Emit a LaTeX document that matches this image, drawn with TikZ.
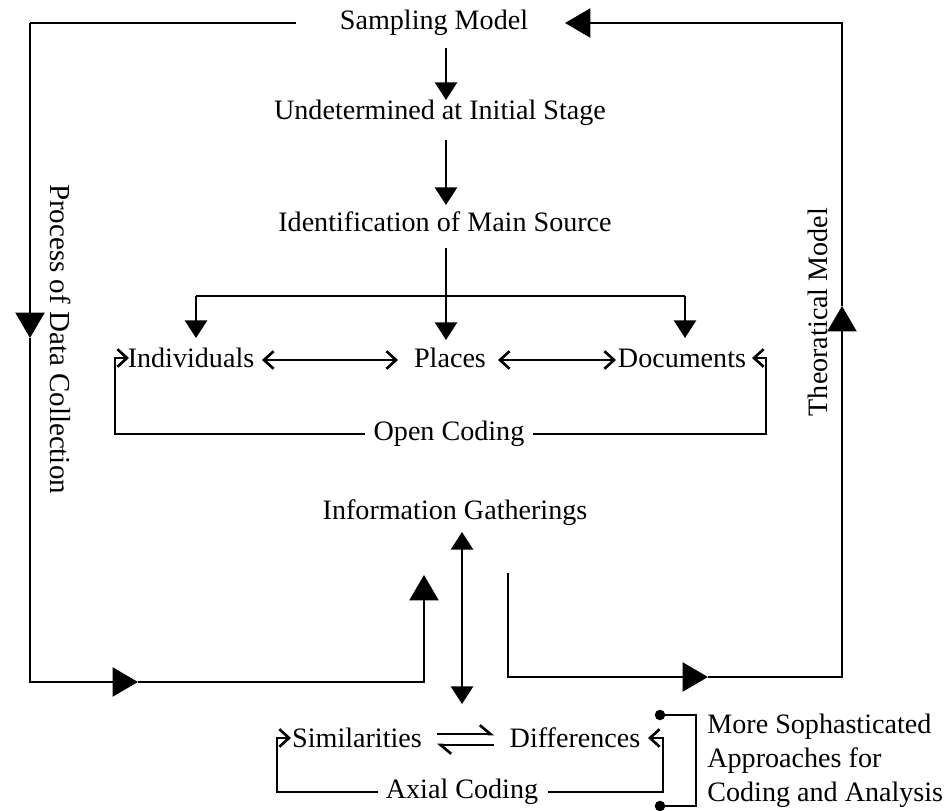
\documentclass[tikz,border=0pt]{standalone}
\usepackage{fontspec}
\setmainfont{Liberation Serif}
\usetikzlibrary{arrows.meta}
\begin{document}
\begin{tikzpicture}[x=0.02cm,y=-0.02cm,
  ln/.style={line width=1.5pt},
  big/.style={ln,-{Triangle[length=14.5pt,width=16.5pt]}},
  med/.style={ln,-{Triangle[length=10pt,width=12.5pt]}},
  medb/.style={ln,{Triangle[length=10pt,width=12.5pt]}-{Triangle[length=10pt,width=12.5pt]}},
  barb/.style={ln,-{Straight Barb[length=5.5pt,width=10pt]}},
  barbb/.style={ln,{Straight Barb[length=5.5pt,width=10pt]}-{Straight Barb[length=5.5pt,width=10pt]}},
  harp/.style={ln,-{Straight Barb[left,length=6pt,width=10pt]}},
  txt/.style={inner sep=0pt,font=\fontsize{16}{19.3}\selectfont},
  dot/.style={circle,fill,inner sep=0pt,minimum size=6pt}]
\useasboundingbox (0,0) rectangle (951,811);

% text nodes
\node[txt] (sm)  at (434,23)  {Sampling Model};
\node[txt] (ud)  at (440,113) {Undetermined at Initial Stage};
\node[txt] (ims) at (445,222) {Identification of Main Source};
\node[txt] (ind) at (191,358) {Individuals};
\node[txt] (pla) at (450,358) {Places};
\node[txt] (doc) at (682,358) {Documents};
\node[txt] (oc)  at (449,434) {Open Coding};
\node[txt] (ig)  at (455,513) {Information Gatherings};
\node[txt] (sim) at (357,738) {Similarities};
\node[txt] (dif) at (575,738) {Differences};
\node[txt] (ac)  at (462,792) {Axial Coding};
\node[txt,anchor=west,align=left] (msa) at (707,761) {More Sophasticated\\Approaches for\\Coding and Analysis};
\node[txt,font=\fontsize{16.5}{19}\selectfont,rotate=-90] (pdc) at (61,339) {Process of Data Collection};
\node[txt,rotate=90] (tm) at (818,312) {Theoratical Model};

% coordinates
\coordinate (smL) at (296,23);
\coordinate (tl) at (30,23);
\coordinate (lm) at (30,338);
\coordinate (bl) at (30,682);
\coordinate (bm) at (138,682);
\coordinate (br) at (424,682);
\coordinate (upT) at (424,575);
\coordinate (rs) at (508,573);
\coordinate (rb) at (508,677);
\coordinate (rm) at (708,677);
\coordinate (rbr) at (842,677);
\coordinate (rvm) at (842,306);
\coordinate (rt) at (842,23);
\coordinate (smR) at (565,23);

% outer loop left
\draw[ln] (smL) -- (tl);
\draw[big] (tl) -- (lm);
\draw[big] (lm) -- (bl) -- (bm);
\draw[big] (bm) -- (br) -- (upT);
% outer loop right
\draw[big] (rs) -- (rb) -- (rm);
\draw[big] (rm) -- (rbr) -- (rvm);
\draw[big] (rvm) -- (rt) -- (smR);

% main column
\draw[med] (446,48) -- (446,100);
\draw[med] (446,140) -- (446,205);
\draw[med] (446,248) -- (446,340);
\draw[med] (196,296) -- (196,338);
\draw[ln] (196,296) -- (685,296);
\draw[med] (685,296) -- (685,338);

% double arrows
\draw[barbb] (262,360) -- (398,360);
\draw[barbb] (498,360) -- (616,360);

% open coding bracket
\draw[barb] (oc.west) ++(-8,0) -- (115,434) -- (115,358) -- (129,358);
\draw[barb] (oc.east) ++(8,0) -- (766,434) -- (766,358) -- (752,358);

% information gatherings vertical
\draw[medb] (462,532) -- (462,704);

% harpoons
\draw[harp] (437,734) -- (494,734);
\draw[harp] (494,745) -- (437,745);

% axial coding bracket
\draw[barb] (ac.west) ++(-8,0) -- (277,792) -- (277,738) -- (291,738);
\draw[barb] (ac.east) ++(10,0) -- (663,792) -- (663,738) -- (648,738);

% dotted bracket
\node[dot] (d1) at (660,715) {};
\node[dot] (d2) at (660,806) {};
\draw[ln] (d1.center) -- (696,715) -- (696,806) -- (d2.center);
\end{tikzpicture}
\end{document}
